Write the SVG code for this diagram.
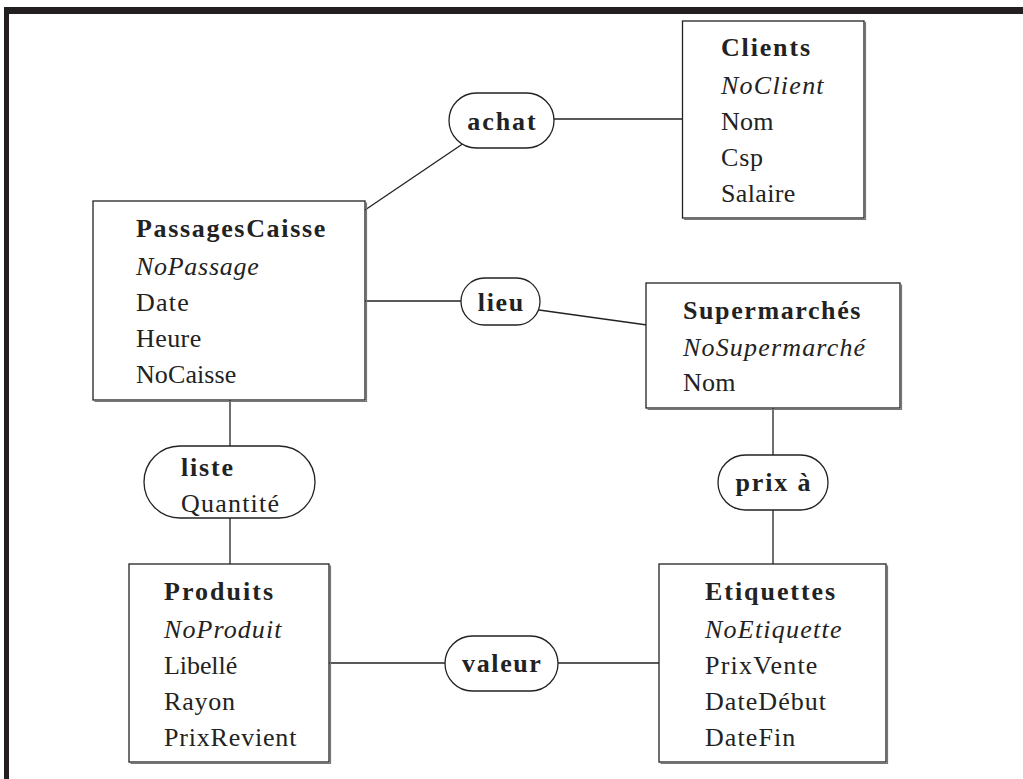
<svg xmlns="http://www.w3.org/2000/svg" width="1023" height="779" viewBox="0 0 1023 779">
<style>
.frame{fill:#231f20}
.box{fill:#fff;stroke:#222;stroke-width:1.3}
.shadow{fill:none;stroke:#777;stroke-width:1.2}
.rel{fill:#fff;stroke:#222;stroke-width:1.3}
.conn line{stroke:#222;stroke-width:1.3}
text{font-family:"Liberation Serif","Times New Roman",serif;font-size:26px;fill:#222}
.b{font-weight:bold}
.i{font-style:italic}
</style>
<rect x="0" y="0" width="1023" height="779" fill="#fff"/>
<rect class="frame" x="4" y="7" width="1019" height="7"/>
<rect class="frame" x="4" y="7" width="5" height="772"/>

<g id="connectors" class="conn">
<line x1="365" y1="210" x2="464" y2="143"/>
<line x1="554" y1="119" x2="683" y2="119"/>
<line x1="365" y1="301" x2="461" y2="301"/>
<line x1="539" y1="310" x2="647" y2="325"/>
<line x1="230" y1="400" x2="230" y2="446"/>
<line x1="230" y1="518" x2="230" y2="564"/>
<line x1="773" y1="408" x2="773" y2="455"/>
<line x1="773" y1="510" x2="773" y2="564"/>
<line x1="329" y1="663" x2="445" y2="663"/>
<line x1="558" y1="663" x2="659" y2="663"/>
</g>

<g id="clients">
<path class="shadow" d="M684 219.5H865.5V22"/>
<rect class="box" x="682.5" y="21" width="181.5" height="197"/>
<text class="b" x="721" y="56" textLength="89" lengthAdjust="spacing">Clients</text>
<text class="i" x="721" y="94" textLength="102.6" lengthAdjust="spacing">NoClient</text>
<text x="721" y="130" textLength="52.5" lengthAdjust="spacing">Nom</text>
<text x="721" y="166" textLength="42.1" lengthAdjust="spacing">Csp</text>
<text x="721" y="202" textLength="74.3" lengthAdjust="spacing">Salaire</text>
</g>

<g id="passagescaisse">
<path class="shadow" d="M94.5 401.5H366.5V202.5"/>
<rect class="box" x="93" y="201" width="272" height="199"/>
<text class="b" x="136" y="237" textLength="189.3" lengthAdjust="spacing">PassagesCaisse</text>
<text class="i" x="136" y="275" textLength="122.7" lengthAdjust="spacing">NoPassage</text>
<text x="136" y="311" textLength="52.8" lengthAdjust="spacing">Date</text>
<text x="136" y="347" textLength="65.2" lengthAdjust="spacing">Heure</text>
<text x="136" y="383" textLength="100.3" lengthAdjust="spacing">NoCaisse</text>
</g>

<g id="supermarches">
<path class="shadow" d="M647.5 409.5H901.5V284.5"/>
<rect class="box" x="646" y="283" width="254" height="125"/>
<text class="b" x="683" y="319" textLength="177.4" lengthAdjust="spacing">Supermarchés</text>
<text class="i" x="683" y="356" textLength="182.1" lengthAdjust="spacing">NoSupermarché</text>
<text x="683" y="391" textLength="52.5" lengthAdjust="spacing">Nom</text>
</g>

<g id="produits">
<path class="shadow" d="M130.5 763.5H330.5V565.5"/>
<rect class="box" x="129" y="564" width="200" height="198"/>
<text class="b" x="164" y="600" textLength="109.2" lengthAdjust="spacing">Produits</text>
<text class="i" x="164" y="638" textLength="117.5" lengthAdjust="spacing">NoProduit</text>
<text x="164" y="674" textLength="73.2" lengthAdjust="spacing">Libellé</text>
<text x="164" y="710" textLength="71.1" lengthAdjust="spacing">Rayon</text>
<text x="164" y="746" textLength="132.4" lengthAdjust="spacing">PrixRevient</text>
</g>

<g id="etiquettes">
<path class="shadow" d="M660.5 763.5H887.5V565.5"/>
<rect class="box" x="659" y="564" width="227" height="198"/>
<text class="b" x="705" y="600" textLength="130.2" lengthAdjust="spacing">Etiquettes</text>
<text class="i" x="705" y="638" textLength="136.5" lengthAdjust="spacing">NoEtiquette</text>
<text x="705" y="674" textLength="112.4" lengthAdjust="spacing">PrixVente</text>
<text x="705" y="710" textLength="121.1" lengthAdjust="spacing">DateDébut</text>
<text x="705" y="746" textLength="90.3" lengthAdjust="spacing">DateFin</text>
</g>

<g id="achat">
<rect class="rel" x="449" y="93" width="105" height="55" rx="27.5"/>
<text class="b" x="501.5" y="130" text-anchor="middle" textLength="68.4" lengthAdjust="spacing">achat</text>
</g>

<g id="lieu">
<rect class="rel" x="461" y="278" width="79" height="47" rx="23.5"/>
<text class="b" x="500.5" y="311" text-anchor="middle" textLength="45.5" lengthAdjust="spacing">lieu</text>
</g>

<g id="liste">
<rect class="rel" x="144" y="446" width="171" height="72" rx="36"/>
<text class="b" x="181" y="476" textLength="52.1" lengthAdjust="spacing">liste</text>
<text x="181" y="512" textLength="98" lengthAdjust="spacing">Quantité</text>
</g>

<g id="prixa">
<rect class="rel" x="718" y="455" width="110" height="55" rx="27.5"/>
<text class="b" x="773" y="491" text-anchor="middle" textLength="75" lengthAdjust="spacing">prix à</text>
</g>

<g id="valeur">
<rect class="rel" x="445" y="636" width="113" height="55" rx="27.5"/>
<text class="b" x="501.5" y="672" text-anchor="middle" textLength="78.8" lengthAdjust="spacing">valeur</text>
</g>
</svg>
